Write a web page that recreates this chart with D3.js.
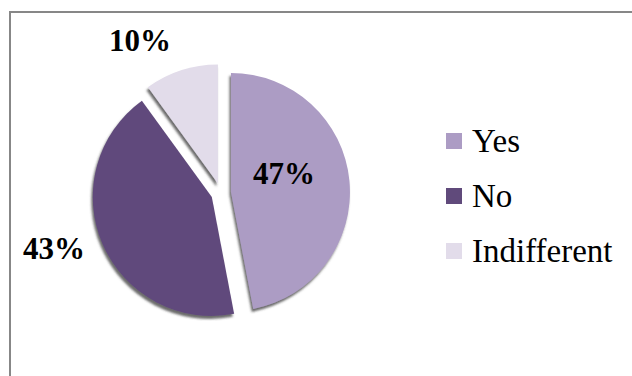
<!DOCTYPE html>
<html>
<head>
<meta charset="utf-8">
<script src="https://cdn.jsdelivr.net/npm/d3@7"></script>
<style>
  html, body { margin: 0; padding: 0; background: #fff; }
  svg { display: block; }
  text { font-family: "Liberation Serif", "Times New Roman", serif; }
</style>
</head>
<body>
<svg id="chart" width="632" height="376"></svg>
<script>
// Survey answers
const categories = ["Yes", "No", "Indifferent"];
const shares = [47, 43, 10];
const labels = ["47%", "43%", "10%"];
const colors = ["#ac9cc4", "#604a7b", "#e2dcea"];

const svg = d3.select("#chart");
const W = 632, H = 376;

// chart frame (runs past the right and bottom edges)
svg.append("rect")
  .attr("x", 10).attr("y", 12)
  .attr("width", W + 10).attr("height", H + 10)
  .attr("fill", "#fff")
  .attr("stroke", "#878787")
  .attr("stroke-width", 2);

const defs = svg.append("defs");
const f = defs.append("filter").attr("id", "shadow")
  .attr("x", "-20%").attr("y", "-20%").attr("width", "140%").attr("height", "140%");
f.append("feDropShadow")
  .attr("dx", -1.5).attr("dy", 3)
  .attr("stdDeviation", 1)
  .attr("flood-color", "#3a3a3a")
  .attr("flood-opacity", 0.75);

const cx = 221, cy = 193, r = 119, explode = 10;

const pie = d3.pie().sort(null).value(d => d);
const arcs = pie(shares);
const arc = d3.arc().innerRadius(0).outerRadius(r);

const g = svg.append("g").attr("transform", `translate(${cx},${cy})`);

g.selectAll("path.slice")
  .data(arcs)
  .join("path")
  .attr("class", "slice")
  .attr("d", arc)
  .attr("fill", (d, i) => colors[i])
  .attr("filter", "url(#shadow)")
  .attr("transform", d => {
    const a = (d.startAngle + d.endAngle) / 2;
    return `translate(${explode * Math.sin(a)},${-explode * Math.cos(a)})`;
  });

// percentage labels: inside for the large slice, outside for the others
const labelPos = [[284, 184], [54, 259], [140, 51]];
svg.selectAll("text.pct")
  .data(labels)
  .join("text")
  .attr("class", "pct")
  .attr("x", (d, i) => labelPos[i][0])
  .attr("y", (d, i) => labelPos[i][1])
  .attr("text-anchor", "middle")
  .attr("font-size", 31)
  .attr("font-weight", "bold")
  .attr("fill", "#000")
  .text(d => d);

// legend
const legend = svg.append("g").attr("transform", "translate(446,0)");
const rowY = d3.scalePoint().domain(categories).range([152, 262]);
const item = legend.selectAll("g.item")
  .data(categories)
  .join("g")
  .attr("class", "item")
  .attr("transform", d => `translate(0,${rowY(d)})`);
item.append("rect")
  .attr("x", 0).attr("y", -19)
  .attr("width", 16).attr("height", 16)
  .attr("fill", (d, i) => colors[i]);
item.append("text")
  .attr("x", 26).attr("y", 0)
  .attr("font-size", 33)
  .attr("fill", "#000")
  .text(d => d);
</script>
</body>
</html>
